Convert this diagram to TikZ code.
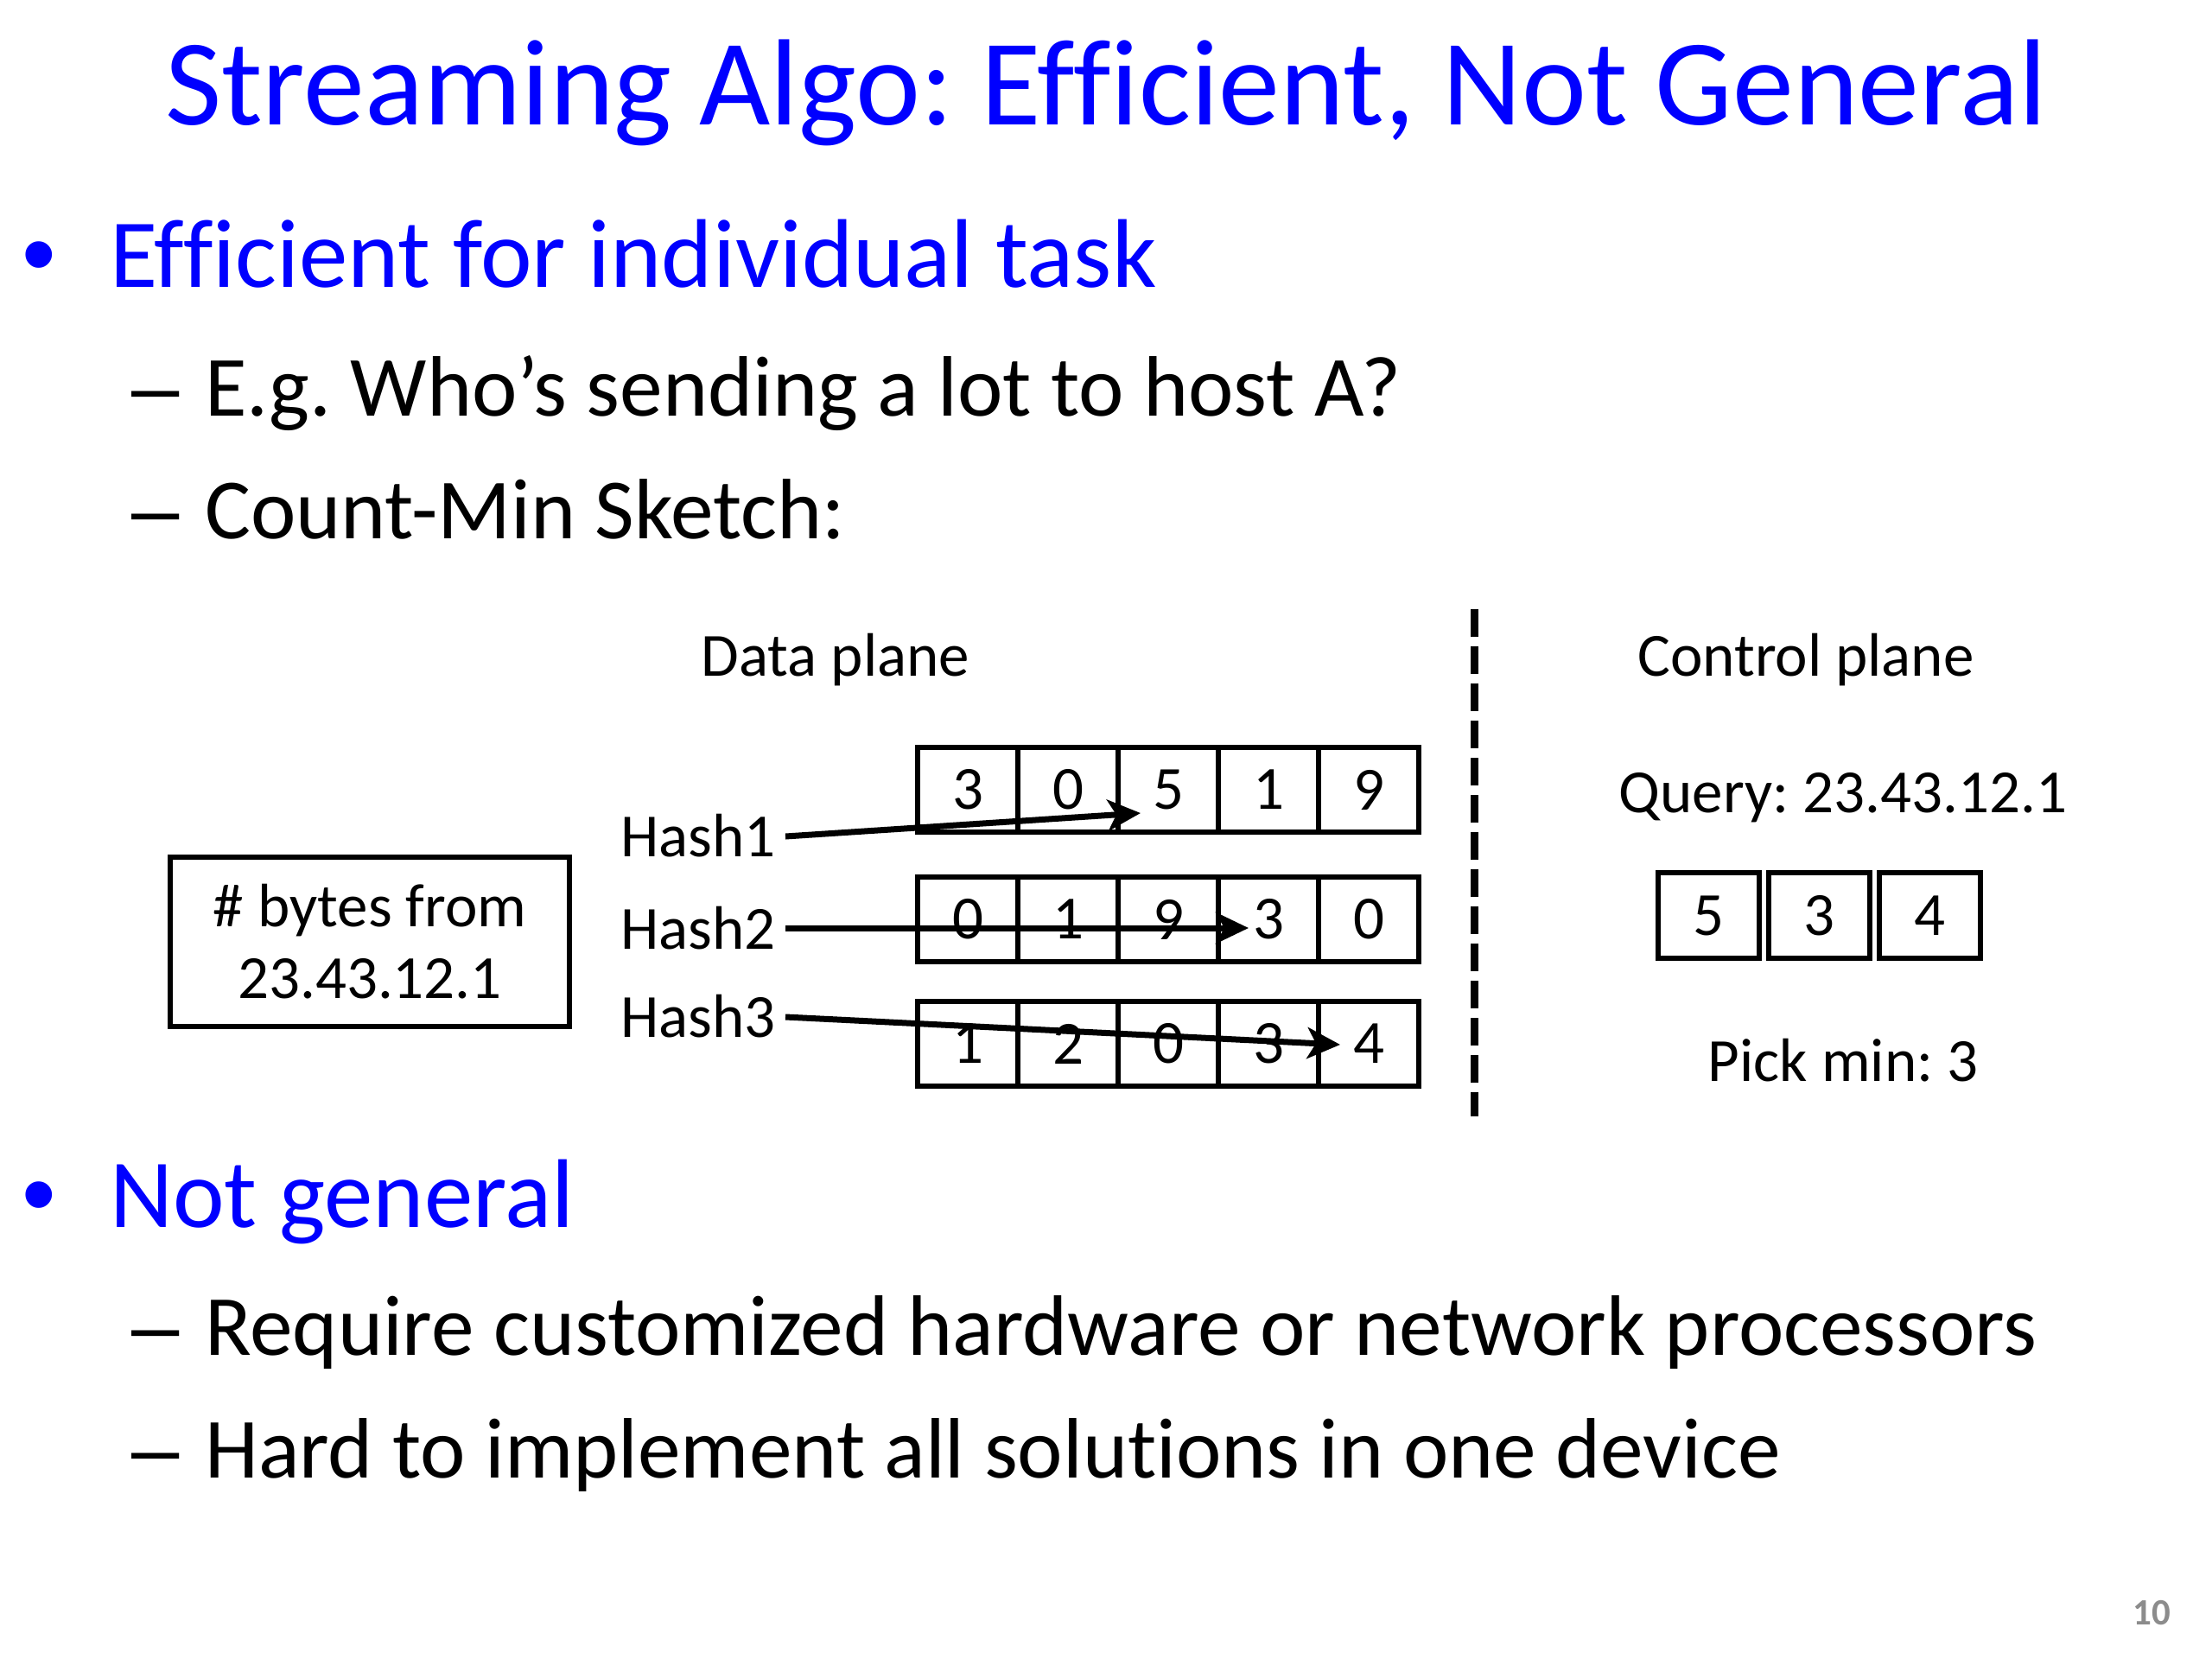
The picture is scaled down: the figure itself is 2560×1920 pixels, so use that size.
\documentclass[tikz,border=0pt]{standalone}
\usepackage{fontspec}
\setmainfont[Ligatures=NoCommon]{Carlito}
\newfontfamily\arialfont{Liberation Sans}
\usetikzlibrary{arrows.meta}
\definecolor{titleblue}{RGB}{0,0,255}
\definecolor{pagegray}{RGB}{140,140,140}
\frenchspacing
\begin{document}
\begin{tikzpicture}[x=1pt,y=-1pt,
  txt/.style={inner sep=0pt, anchor=base west},
  titlefont/.style={font=\fontsize{142}{170}\selectfont, text=titleblue},
  lvlone/.style={txt, font=\fontsize{113}{136}\selectfont, text=titleblue},
  lvltwo/.style={txt, font=\fontsize{99.3}{120}\selectfont},
  bulletmark/.style={inner sep=0pt, anchor=base, font=\arialfont\fontsize{113}{136}\selectfont, text=titleblue},
  dashmark/.style={txt, font=\arialfont\fontsize{99.3}{120}\selectfont},
  small/.style={inner sep=0pt, font=\fontsize{71}{85}\selectfont},
  cell/.style={draw, line width=6pt, minimum width=116pt, minimum height=98pt, inner sep=0pt, font=\fontsize{71}{85}\selectfont},
  qcell/.style={draw, line width=6pt, minimum width=117pt, minimum height=99pt, inner sep=0pt, font=\fontsize{71}{85}\selectfont},
  hasharrow/.style={line width=7pt, -{Stealth[length=38pt, width=36pt, inset=10pt]}}
]
\useasboundingbox (0,0) rectangle (2560,1920);

% title
\node[inner sep=0pt, anchor=base, titlefont] (title) at (1280,144) {Streaming Algo: Efficient, Not General};

% bullets
\node[bulletmark] (b1) at (45,332) {•};
\node[lvlone] (l1) at (127,332) {Efficient for individual task};
\node[dashmark] (d1) at (152,481) {–};
\node[lvltwo] (l2) at (237,481) {E.g. Who’s sending a lot to host A?};
\node[dashmark] (d2) at (152,623) {–};
\node[lvltwo] (l3) at (237,623) {Count-Min Sketch:};

\node[bulletmark] (b2) at (45,1420) {•};
\node[lvlone] (l4) at (127,1420) {Not general};
\node[dashmark] (d3) at (152,1568) {–};
\node[lvltwo] (l5) at (237,1568) {Require customized hardware or network processors};
\node[dashmark] (d4) at (152,1710) {–};
\node[lvltwo] (l6) at (237,1710) {Hard to implement all solutions in one device};

% diagram headers
\node[small, anchor=base] (dp) at (967,782) {Data plane};
\node[small, anchor=base] (cp) at (2090,782) {Control plane};

% left box
\node[draw, line width=6pt, minimum width=462pt, minimum height=196pt, inner sep=0pt,
      font=\fontsize{71}{83}\selectfont, align=center] (src) at (428,1090) {\# bytes from\\23.43.12.1};

% hash labels
\node[small, anchor=base west] (h1) at (718,991) {Hash1};
\node[small, anchor=base west] (h2) at (718,1098) {Hash2};
\node[small, anchor=base west] (h3) at (718,1200) {Hash3};

% sketch rows
\node[cell] (r1c1) at (1120,914) {3};
\node[cell] (r1c2) at (1236,914) {0};
\node[cell] (r1c3) at (1352,914) {5};
\node[cell] (r1c4) at (1468,914) {1};
\node[cell] (r1c5) at (1584,914) {9};

\node[cell] (r2c1) at (1120,1064) {0};
\node[cell] (r2c2) at (1236,1064) {1};
\node[cell] (r2c3) at (1352,1064) {9};
\node[cell] (r2c4) at (1468,1064) {3};
\node[cell] (r2c5) at (1584,1064) {0};

\node[cell] (r3c1) at (1120,1208) {1};
\node[cell] (r3c2) at (1236,1208) {2};
\node[cell] (r3c3) at (1352,1208) {0};
\node[cell] (r3c4) at (1468,1208) {3};
\node[cell] (r3c5) at (1584,1208) {4};

% arrow ends
\coordinate (s1) at (909,968);
\coordinate (s2) at (909,1074);
\coordinate (s3) at (909,1177);
\coordinate (t1) at (1320,941);
\coordinate (t2) at (1445,1074);
\coordinate (t3) at (1551,1209);
\draw[hasharrow] (s1) -- (t1);
\draw[hasharrow] (s2) -- (t2);
\draw[hasharrow] (s3) -- (t3);

% separator
\coordinate (sepA) at (1706,705);
\coordinate (sepB) at (1706,1292);
\draw[line width=9pt, dash pattern=on 32pt off 11pt] (sepA) -- (sepB);

% control plane
\node[small, anchor=base] (q) at (2133,940) {Query: 23.43.12.1};
\node[qcell] (m1) at (1977.5,1059.5) {5};
\node[qcell] (m2) at (2105.5,1059.5) {3};
\node[qcell] (m3) at (2233.5,1059.5) {4};
\node[small, anchor=base] (pm) at (2133,1251) {Pick min: 3};

% page number
\node[inner sep=0pt, anchor=base east, font=\fontsize{43}{50}\selectfont\bfseries, text=pagegray] (pg) at (2512,1880) {10};
\end{tikzpicture}
\end{document}
